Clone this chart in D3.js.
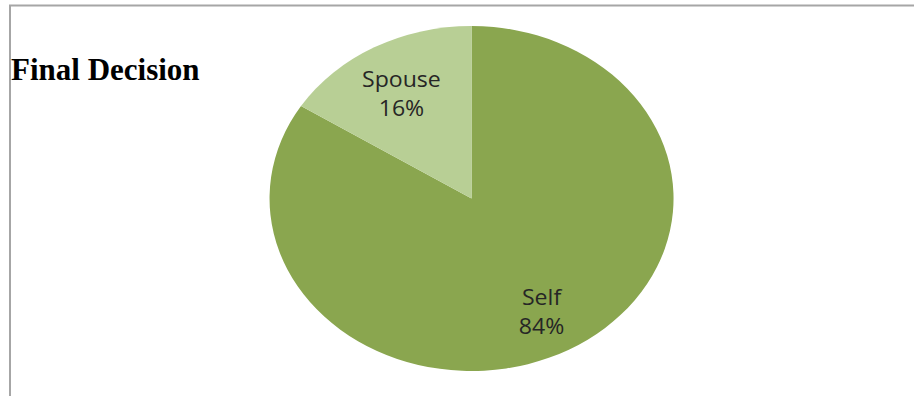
<!DOCTYPE html>
<html>
<head>
<meta charset="utf-8">
<script src="https://cdn.jsdelivr.net/npm/d3@7"></script>
<style>
  body { margin: 0; background: #fff; }
</style>
</head>
<body>
<div id="chart"></div>
<script>
// pie data
const categories = ["Self", "Spouse"];
const shares = [84, 16];
const sliceColors = ["#8aa64f", "#b8cf95"];

const width = 914, height = 396;
// pie is drawn as an ellipse (stretched circle)
const cx = 471.5, cy = 198.5, rx = 202, ry = 172.5;

const svg = d3.select("#chart").append("svg")
  .attr("width", width)
  .attr("height", height);

// frame lines (top and left only)
svg.append("line")
  .attr("x1", 9).attr("x2", width).attr("y1", 5.5).attr("y2", 5.5)
  .attr("stroke", "#a6a6a6").attr("stroke-width", 2);
svg.append("line")
  .attr("x1", 10).attr("x2", 10).attr("y1", 5).attr("y2", height)
  .attr("stroke", "#a6a6a6").attr("stroke-width", 2);

// title
svg.append("text")
  .attr("x", 11).attr("y", 80)
  .attr("font-family", "'Liberation Serif', 'Times New Roman', serif")
  .attr("font-weight", "bold")
  .attr("font-size", 31)
  .attr("fill", "#000")
  .text("Final Decision");

const pieData = d3.pie().sort(null)(shares)
  .map((p, i) => Object.assign(p, { name: categories[i], color: sliceColors[i] }));

const arc = d3.arc().innerRadius(0).outerRadius(1);
const labelArc = d3.arc().innerRadius(0.72 * 2).outerRadius(0);

const g = svg.append("g")
  .attr("transform", `translate(${cx},${cy})`);

g.append("g")
  .attr("transform", `scale(${rx},${ry})`)
  .selectAll("path")
  .data(pieData)
  .join("path")
  .attr("d", arc)
  .attr("fill", d => d.color);

// labels
const labels = g.selectAll("g.lbl")
  .data(pieData)
  .join("g")
  .attr("class", "lbl")
  .attr("transform", d => {
    const [x, y] = labelArc.centroid(d);
    return `translate(${x * rx},${y * ry}) scale(1.1,1)`;
  });

labels.append("text")
  .attr("text-anchor", "middle")
  .attr("y", -2.5)
  .attr("font-family", "'Open Sans', sans-serif")
  .attr("font-size", 21)
  .attr("fill", "#262626")
  .text(d => d.name);

labels.append("text")
  .attr("text-anchor", "middle")
  .attr("y", 26.5)
  .attr("font-family", "'Open Sans', sans-serif")
  .attr("font-size", 21)
  .attr("fill", "#262626")
  .text(d => d.value + "%");
</script>
</body>
</html>
